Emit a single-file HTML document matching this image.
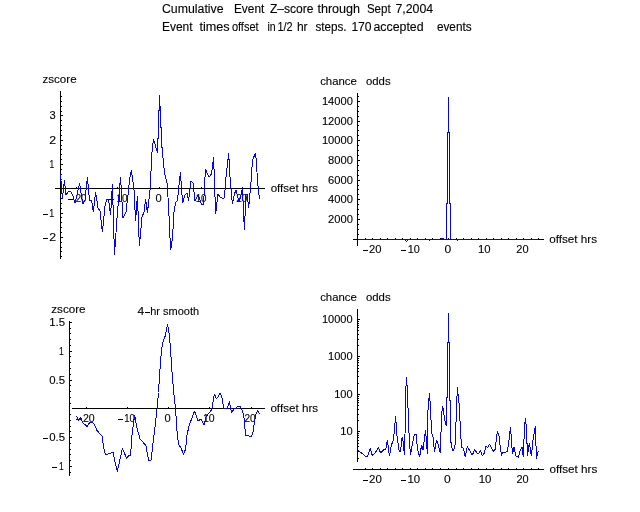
<!DOCTYPE html>
<html><head><meta charset="utf-8"><title>Cumulative Event Z-score</title>
<style>
html,body{margin:0;padding:0;background:#fff;}
body{width:640px;height:512px;position:relative;overflow:hidden;font-family:"Liberation Sans",sans-serif;}
svg{position:absolute;left:0;top:0;will-change:transform;}
text{font-family:"Liberation Sans",sans-serif;fill:#000;stroke:#000;stroke-width:0.12px;}
</style></head><body>
<svg width="640" height="512" viewBox="0 0 640 512">
<g stroke="#000" stroke-width="1" fill="none" shape-rendering="crispEdges">
<line x1="60.5" y1="91" x2="60.5" y2="259"/>
<line x1="55" y1="188.5" x2="265" y2="188.5"/>
<line x1="61" y1="256.5" x2="62" y2="256.5"/>
<line x1="61" y1="251.5" x2="62" y2="251.5"/>
<line x1="61" y1="247.5" x2="62" y2="247.5"/>
<line x1="61" y1="242.5" x2="62" y2="242.5"/>
<line x1="61" y1="237.5" x2="63" y2="237.5"/>
<line x1="61" y1="232.5" x2="62" y2="232.5"/>
<line x1="61" y1="227.5" x2="62" y2="227.5"/>
<line x1="61" y1="222.5" x2="62" y2="222.5"/>
<line x1="61" y1="217.5" x2="62" y2="217.5"/>
<line x1="61" y1="213.5" x2="63" y2="213.5"/>
<line x1="61" y1="208.5" x2="62" y2="208.5"/>
<line x1="61" y1="203.5" x2="62" y2="203.5"/>
<line x1="61" y1="198.5" x2="62" y2="198.5"/>
<line x1="61" y1="193.5" x2="62" y2="193.5"/>
<line x1="61" y1="183.5" x2="62" y2="183.5"/>
<line x1="61" y1="179.5" x2="62" y2="179.5"/>
<line x1="61" y1="174.5" x2="62" y2="174.5"/>
<line x1="61" y1="169.5" x2="62" y2="169.5"/>
<line x1="61" y1="164.5" x2="63" y2="164.5"/>
<line x1="61" y1="159.5" x2="62" y2="159.5"/>
<line x1="61" y1="154.5" x2="62" y2="154.5"/>
<line x1="61" y1="149.5" x2="62" y2="149.5"/>
<line x1="61" y1="145.5" x2="62" y2="145.5"/>
<line x1="61" y1="140.5" x2="63" y2="140.5"/>
<line x1="61" y1="135.5" x2="62" y2="135.5"/>
<line x1="61" y1="130.5" x2="62" y2="130.5"/>
<line x1="61" y1="125.5" x2="62" y2="125.5"/>
<line x1="61" y1="120.5" x2="62" y2="120.5"/>
<line x1="61" y1="115.5" x2="63" y2="115.5"/>
<line x1="61" y1="111.5" x2="62" y2="111.5"/>
<line x1="61" y1="106.5" x2="62" y2="106.5"/>
<line x1="61" y1="101.5" x2="62" y2="101.5"/>
<line x1="61" y1="96.5" x2="62" y2="96.5"/>
<line x1="76.5" y1="187" x2="76.5" y2="188"/>
<line x1="117.5" y1="187" x2="117.5" y2="188"/>
<line x1="159.5" y1="187" x2="159.5" y2="188"/>
<line x1="201.5" y1="187" x2="201.5" y2="188"/>
<line x1="242.5" y1="187" x2="242.5" y2="188"/>
<line x1="43" y1="214.5" x2="48" y2="214.5"/>
<line x1="43" y1="238.5" x2="48" y2="238.5"/>
<line x1="68" y1="199.5" x2="73" y2="199.5"/>
<line x1="109" y1="199.5" x2="114" y2="199.5"/>
<line x1="357.5" y1="93" x2="357.5" y2="246"/>
<line x1="353" y1="239.5" x2="544" y2="239.5"/>
<line x1="358" y1="234.5" x2="359" y2="234.5"/>
<line x1="358" y1="229.5" x2="359" y2="229.5"/>
<line x1="358" y1="224.5" x2="359" y2="224.5"/>
<line x1="358" y1="219.5" x2="360" y2="219.5"/>
<line x1="358" y1="214.5" x2="359" y2="214.5"/>
<line x1="358" y1="209.5" x2="359" y2="209.5"/>
<line x1="358" y1="204.5" x2="359" y2="204.5"/>
<line x1="358" y1="199.5" x2="360" y2="199.5"/>
<line x1="358" y1="194.5" x2="359" y2="194.5"/>
<line x1="358" y1="189.5" x2="359" y2="189.5"/>
<line x1="358" y1="185.5" x2="359" y2="185.5"/>
<line x1="358" y1="180.5" x2="360" y2="180.5"/>
<line x1="358" y1="175.5" x2="359" y2="175.5"/>
<line x1="358" y1="170.5" x2="359" y2="170.5"/>
<line x1="358" y1="165.5" x2="359" y2="165.5"/>
<line x1="358" y1="160.5" x2="360" y2="160.5"/>
<line x1="358" y1="155.5" x2="359" y2="155.5"/>
<line x1="358" y1="150.5" x2="359" y2="150.5"/>
<line x1="358" y1="145.5" x2="359" y2="145.5"/>
<line x1="358" y1="140.5" x2="360" y2="140.5"/>
<line x1="358" y1="135.5" x2="359" y2="135.5"/>
<line x1="358" y1="130.5" x2="359" y2="130.5"/>
<line x1="358" y1="125.5" x2="359" y2="125.5"/>
<line x1="358" y1="121.5" x2="360" y2="121.5"/>
<line x1="358" y1="116.5" x2="359" y2="116.5"/>
<line x1="358" y1="111.5" x2="359" y2="111.5"/>
<line x1="358" y1="106.5" x2="359" y2="106.5"/>
<line x1="358" y1="101.5" x2="360" y2="101.5"/>
<line x1="358" y1="96.5" x2="359" y2="96.5"/>
<line x1="365.5" y1="238" x2="365.5" y2="239"/>
<line x1="372.5" y1="238" x2="372.5" y2="239"/>
<line x1="380.5" y1="238" x2="380.5" y2="239"/>
<line x1="387.5" y1="238" x2="387.5" y2="239"/>
<line x1="395.5" y1="238" x2="395.5" y2="239"/>
<line x1="402.5" y1="238" x2="402.5" y2="239"/>
<line x1="410.5" y1="238" x2="410.5" y2="239"/>
<line x1="417.5" y1="238" x2="417.5" y2="239"/>
<line x1="425.5" y1="238" x2="425.5" y2="239"/>
<line x1="432.5" y1="238" x2="432.5" y2="239"/>
<line x1="440.5" y1="238" x2="440.5" y2="239"/>
<line x1="448.5" y1="238" x2="448.5" y2="239"/>
<line x1="456.5" y1="238" x2="456.5" y2="239"/>
<line x1="463.5" y1="238" x2="463.5" y2="239"/>
<line x1="471.5" y1="238" x2="471.5" y2="239"/>
<line x1="478.5" y1="238" x2="478.5" y2="239"/>
<line x1="486.5" y1="238" x2="486.5" y2="239"/>
<line x1="493.5" y1="238" x2="493.5" y2="239"/>
<line x1="501.5" y1="238" x2="501.5" y2="239"/>
<line x1="508.5" y1="238" x2="508.5" y2="239"/>
<line x1="516.5" y1="238" x2="516.5" y2="239"/>
<line x1="523.5" y1="238" x2="523.5" y2="239"/>
<line x1="531.5" y1="238" x2="531.5" y2="239"/>
<line x1="538.5" y1="238" x2="538.5" y2="239"/>
<line x1="363" y1="250.5" x2="368" y2="250.5"/>
<line x1="401" y1="250.5" x2="406" y2="250.5"/>
<line x1="69.5" y1="321" x2="69.5" y2="476"/>
<line x1="72" y1="408.5" x2="265" y2="408.5"/>
<line x1="70" y1="472.5" x2="71" y2="472.5"/>
<line x1="70" y1="466.5" x2="72" y2="466.5"/>
<line x1="70" y1="460.5" x2="71" y2="460.5"/>
<line x1="70" y1="454.5" x2="71" y2="454.5"/>
<line x1="70" y1="449.5" x2="71" y2="449.5"/>
<line x1="70" y1="443.5" x2="71" y2="443.5"/>
<line x1="70" y1="437.5" x2="72" y2="437.5"/>
<line x1="70" y1="431.5" x2="71" y2="431.5"/>
<line x1="70" y1="426.5" x2="71" y2="426.5"/>
<line x1="70" y1="420.5" x2="71" y2="420.5"/>
<line x1="70" y1="414.5" x2="71" y2="414.5"/>
<line x1="70" y1="403.5" x2="71" y2="403.5"/>
<line x1="70" y1="397.5" x2="71" y2="397.5"/>
<line x1="70" y1="391.5" x2="71" y2="391.5"/>
<line x1="70" y1="385.5" x2="71" y2="385.5"/>
<line x1="70" y1="380.5" x2="72" y2="380.5"/>
<line x1="70" y1="374.5" x2="71" y2="374.5"/>
<line x1="70" y1="368.5" x2="71" y2="368.5"/>
<line x1="70" y1="362.5" x2="71" y2="362.5"/>
<line x1="70" y1="356.5" x2="71" y2="356.5"/>
<line x1="70" y1="351.5" x2="72" y2="351.5"/>
<line x1="70" y1="345.5" x2="71" y2="345.5"/>
<line x1="70" y1="339.5" x2="71" y2="339.5"/>
<line x1="70" y1="333.5" x2="71" y2="333.5"/>
<line x1="70" y1="328.5" x2="71" y2="328.5"/>
<line x1="70" y1="322.5" x2="72" y2="322.5"/>
<line x1="86.5" y1="407" x2="86.5" y2="408"/>
<line x1="127.5" y1="407" x2="127.5" y2="408"/>
<line x1="168.5" y1="407" x2="168.5" y2="408"/>
<line x1="209.5" y1="407" x2="209.5" y2="408"/>
<line x1="251.5" y1="407" x2="251.5" y2="408"/>
<line x1="145" y1="312.5" x2="150" y2="312.5"/>
<line x1="43" y1="438.5" x2="48" y2="438.5"/>
<line x1="52" y1="467.5" x2="57" y2="467.5"/>
<line x1="76" y1="419.5" x2="81" y2="419.5"/>
<line x1="118" y1="419.5" x2="123" y2="419.5"/>
<line x1="357.5" y1="309" x2="357.5" y2="462"/>
<line x1="353" y1="469.5" x2="544" y2="469.5"/>
<line x1="358" y1="458.5" x2="359" y2="458.5"/>
<line x1="358" y1="451.5" x2="359" y2="451.5"/>
<line x1="358" y1="446.5" x2="359" y2="446.5"/>
<line x1="358" y1="443.5" x2="359" y2="443.5"/>
<line x1="358" y1="440.5" x2="359" y2="440.5"/>
<line x1="358" y1="437.5" x2="359" y2="437.5"/>
<line x1="358" y1="435.5" x2="359" y2="435.5"/>
<line x1="358" y1="433.5" x2="359" y2="433.5"/>
<line x1="358" y1="431.5" x2="360" y2="431.5"/>
<line x1="358" y1="420.5" x2="359" y2="420.5"/>
<line x1="358" y1="414.5" x2="359" y2="414.5"/>
<line x1="358" y1="409.5" x2="359" y2="409.5"/>
<line x1="358" y1="405.5" x2="359" y2="405.5"/>
<line x1="358" y1="402.5" x2="359" y2="402.5"/>
<line x1="358" y1="400.5" x2="359" y2="400.5"/>
<line x1="358" y1="398.5" x2="359" y2="398.5"/>
<line x1="358" y1="396.5" x2="359" y2="396.5"/>
<line x1="358" y1="394.5" x2="360" y2="394.5"/>
<line x1="358" y1="383.5" x2="359" y2="383.5"/>
<line x1="358" y1="376.5" x2="359" y2="376.5"/>
<line x1="358" y1="371.5" x2="359" y2="371.5"/>
<line x1="358" y1="368.5" x2="359" y2="368.5"/>
<line x1="358" y1="365.5" x2="359" y2="365.5"/>
<line x1="358" y1="362.5" x2="359" y2="362.5"/>
<line x1="358" y1="360.5" x2="359" y2="360.5"/>
<line x1="358" y1="358.5" x2="359" y2="358.5"/>
<line x1="358" y1="356.5" x2="360" y2="356.5"/>
<line x1="358" y1="345.5" x2="359" y2="345.5"/>
<line x1="358" y1="339.5" x2="359" y2="339.5"/>
<line x1="358" y1="334.5" x2="359" y2="334.5"/>
<line x1="358" y1="330.5" x2="359" y2="330.5"/>
<line x1="358" y1="327.5" x2="359" y2="327.5"/>
<line x1="358" y1="325.5" x2="359" y2="325.5"/>
<line x1="358" y1="323.5" x2="359" y2="323.5"/>
<line x1="358" y1="321.5" x2="359" y2="321.5"/>
<line x1="358" y1="319.5" x2="360" y2="319.5"/>
<line x1="365.5" y1="468" x2="365.5" y2="469"/>
<line x1="372.5" y1="468" x2="372.5" y2="469"/>
<line x1="380.5" y1="468" x2="380.5" y2="469"/>
<line x1="387.5" y1="468" x2="387.5" y2="469"/>
<line x1="395.5" y1="468" x2="395.5" y2="469"/>
<line x1="402.5" y1="468" x2="402.5" y2="469"/>
<line x1="410.5" y1="468" x2="410.5" y2="469"/>
<line x1="417.5" y1="468" x2="417.5" y2="469"/>
<line x1="425.5" y1="468" x2="425.5" y2="469"/>
<line x1="432.5" y1="468" x2="432.5" y2="469"/>
<line x1="440.5" y1="468" x2="440.5" y2="469"/>
<line x1="448.5" y1="468" x2="448.5" y2="469"/>
<line x1="456.5" y1="468" x2="456.5" y2="469"/>
<line x1="463.5" y1="468" x2="463.5" y2="469"/>
<line x1="471.5" y1="468" x2="471.5" y2="469"/>
<line x1="478.5" y1="468" x2="478.5" y2="469"/>
<line x1="486.5" y1="468" x2="486.5" y2="469"/>
<line x1="493.5" y1="468" x2="493.5" y2="469"/>
<line x1="501.5" y1="468" x2="501.5" y2="469"/>
<line x1="508.5" y1="468" x2="508.5" y2="469"/>
<line x1="516.5" y1="468" x2="516.5" y2="469"/>
<line x1="523.5" y1="468" x2="523.5" y2="469"/>
<line x1="531.5" y1="468" x2="531.5" y2="469"/>
<line x1="538.5" y1="468" x2="538.5" y2="469"/>
<line x1="363" y1="480.5" x2="368" y2="480.5"/>
<line x1="401" y1="480.5" x2="406" y2="480.5"/>
</g>
<g>
<text x="161.9" y="13" font-size="12" textLength="61.7" lengthAdjust="spacingAndGlyphs">Cumulative</text>
<text x="233.9" y="13" font-size="12" textLength="30.45" lengthAdjust="spacingAndGlyphs">Event</text>
<text x="269.9" y="13" font-size="12" textLength="43.7" lengthAdjust="spacingAndGlyphs">Z–score</text>
<text x="317.4" y="13" font-size="12" textLength="42.7" lengthAdjust="spacingAndGlyphs">through</text>
<text x="366.9" y="13" font-size="12" textLength="23.7" lengthAdjust="spacingAndGlyphs">Sept</text>
<text x="395.4" y="13" font-size="12" textLength="37.7" lengthAdjust="spacingAndGlyphs">7,2004</text>
<text x="161.9" y="31" font-size="12" textLength="30.7" lengthAdjust="spacingAndGlyphs">Event</text>
<text x="199.4" y="31" font-size="12" textLength="30.2" lengthAdjust="spacingAndGlyphs">times</text>
<text x="231.9" y="31" font-size="12" textLength="26.7" lengthAdjust="spacingAndGlyphs">offset</text>
<text x="267.4" y="31" font-size="12" textLength="8.2" lengthAdjust="spacingAndGlyphs">in</text>
<text x="277.4" y="31" font-size="12" textLength="15.2" lengthAdjust="spacingAndGlyphs">1/2</text>
<text x="296.9" y="31" font-size="12" textLength="10.7" lengthAdjust="spacingAndGlyphs">hr</text>
<text x="315.4" y="31" font-size="12" textLength="31.2" lengthAdjust="spacingAndGlyphs">steps.</text>
<text x="351.4" y="31" font-size="12" textLength="20.2" lengthAdjust="spacingAndGlyphs">170</text>
<text x="373.4" y="31" font-size="12" textLength="50.2" lengthAdjust="spacingAndGlyphs">accepted</text>
<text x="436.9" y="31" font-size="12" textLength="34.7" lengthAdjust="spacingAndGlyphs">events</text>
<text x="42.5" y="83" font-size="11.75" textLength="34.1" lengthAdjust="spacingAndGlyphs">zscore</text>
<text x="49.4" y="119" font-size="11.75" textLength="6.2" lengthAdjust="spacingAndGlyphs">3</text>
<text x="49.15" y="144" font-size="11.75" textLength="6.85" lengthAdjust="spacingAndGlyphs">2</text>
<text x="49.4" y="168" font-size="11.75" textLength="4.7" lengthAdjust="spacingAndGlyphs">1</text>
<text x="49.15" y="217" font-size="11.75" textLength="4.95" lengthAdjust="spacingAndGlyphs">1</text>
<text x="49.15" y="241" font-size="11.75" textLength="6.85" lengthAdjust="spacingAndGlyphs">2</text>
<text x="75.65" y="202" font-size="11.75" textLength="10.75" lengthAdjust="spacingAndGlyphs">20</text>
<text x="116.4" y="202" font-size="11.75" textLength="11.1" lengthAdjust="spacingAndGlyphs">10</text>
<text x="155.4" y="202" font-size="11.75" textLength="6.2" lengthAdjust="spacingAndGlyphs">0</text>
<text x="195.65" y="202" font-size="11.75" textLength="10.95" lengthAdjust="spacingAndGlyphs">10</text>
<text x="236.15" y="202" font-size="11.75" textLength="11.05" lengthAdjust="spacingAndGlyphs">20</text>
<text x="270.65" y="192" font-size="11.75" textLength="47.45" lengthAdjust="spacingAndGlyphs">offset hrs</text>
<text x="320.15" y="85" font-size="11.75" textLength="36.7" lengthAdjust="spacingAndGlyphs">chance</text>
<text x="366" y="85" font-size="11.75" textLength="24.6" lengthAdjust="spacingAndGlyphs">odds</text>
<text x="328" y="223" font-size="11.75" textLength="24.85" lengthAdjust="spacingAndGlyphs">2000</text>
<text x="328" y="203" font-size="11.75" textLength="24.85" lengthAdjust="spacingAndGlyphs">4000</text>
<text x="328" y="184" font-size="11.75" textLength="24.85" lengthAdjust="spacingAndGlyphs">6000</text>
<text x="328" y="164" font-size="11.75" textLength="24.85" lengthAdjust="spacingAndGlyphs">8000</text>
<text x="321.9" y="144" font-size="11.75" textLength="30.95" lengthAdjust="spacingAndGlyphs">10000</text>
<text x="321.9" y="125" font-size="11.75" textLength="30.95" lengthAdjust="spacingAndGlyphs">12000</text>
<text x="321.9" y="105" font-size="11.75" textLength="30.95" lengthAdjust="spacingAndGlyphs">14000</text>
<text x="369.1" y="253" font-size="11.75" textLength="12.5" lengthAdjust="spacingAndGlyphs">20</text>
<text x="407.7" y="253" font-size="11.75" textLength="12.1" lengthAdjust="spacingAndGlyphs">10</text>
<text x="444.4" y="253" font-size="11.75" textLength="6.7" lengthAdjust="spacingAndGlyphs">0</text>
<text x="478" y="253" font-size="11.75" textLength="12.6" lengthAdjust="spacingAndGlyphs">10</text>
<text x="516.3" y="253" font-size="11.75" textLength="12.3" lengthAdjust="spacingAndGlyphs">20</text>
<text x="549.2" y="243" font-size="11.75" textLength="47.9" lengthAdjust="spacingAndGlyphs">offset hrs</text>
<text x="51.3" y="313" font-size="11.75" textLength="34.3" lengthAdjust="spacingAndGlyphs">zscore</text>
<text x="137.5" y="315" font-size="11.75" textLength="6.7" lengthAdjust="spacingAndGlyphs">4</text>
<text x="150.2" y="315" font-size="11.75" textLength="48.9" lengthAdjust="spacingAndGlyphs">hr smooth</text>
<text x="49.15" y="326" font-size="11.75" textLength="15.85" lengthAdjust="spacingAndGlyphs">1.5</text>
<text x="58.9" y="355" font-size="11.75" textLength="4.7" lengthAdjust="spacingAndGlyphs">1</text>
<text x="49.15" y="384" font-size="11.75" textLength="15.85" lengthAdjust="spacingAndGlyphs">0.5</text>
<text x="49.15" y="441" font-size="11.75" textLength="15.85" lengthAdjust="spacingAndGlyphs">0.5</text>
<text x="58.9" y="470" font-size="11.75" textLength="4.7" lengthAdjust="spacingAndGlyphs">1</text>
<text x="82.9" y="422" font-size="11.75" textLength="11.8" lengthAdjust="spacingAndGlyphs">20</text>
<text x="124.15" y="422" font-size="11.75" textLength="10.55" lengthAdjust="spacingAndGlyphs">10</text>
<text x="164.4" y="422" font-size="11.75" textLength="6.2" lengthAdjust="spacingAndGlyphs">0</text>
<text x="202.9" y="422" font-size="11.75" textLength="11.7" lengthAdjust="spacingAndGlyphs">10</text>
<text x="244.4" y="422" font-size="11.75" textLength="11.2" lengthAdjust="spacingAndGlyphs">20</text>
<text x="270.4" y="412" font-size="11.75" textLength="47.7" lengthAdjust="spacingAndGlyphs">offset hrs</text>
<text x="320.15" y="301" font-size="11.75" textLength="36.7" lengthAdjust="spacingAndGlyphs">chance</text>
<text x="366" y="301" font-size="11.75" textLength="24.6" lengthAdjust="spacingAndGlyphs">odds</text>
<text x="322" y="323" font-size="11.75" textLength="30.6" lengthAdjust="spacingAndGlyphs">10000</text>
<text x="328" y="360" font-size="11.75" textLength="24.6" lengthAdjust="spacingAndGlyphs">1000</text>
<text x="334.2" y="398" font-size="11.75" textLength="18.4" lengthAdjust="spacingAndGlyphs">100</text>
<text x="340.2" y="435" font-size="11.75" textLength="12.4" lengthAdjust="spacingAndGlyphs">10</text>
<text x="369.1" y="483" font-size="11.75" textLength="12.75" lengthAdjust="spacingAndGlyphs">20</text>
<text x="407.4" y="483" font-size="11.75" textLength="12.7" lengthAdjust="spacingAndGlyphs">10</text>
<text x="443.9" y="483" font-size="11.75" textLength="6.7" lengthAdjust="spacingAndGlyphs">0</text>
<text x="478.65" y="483" font-size="11.75" textLength="12.7" lengthAdjust="spacingAndGlyphs">10</text>
<text x="516.4" y="483" font-size="11.75" textLength="12.2" lengthAdjust="spacingAndGlyphs">20</text>
<text x="549.4" y="473" font-size="11.75" textLength="47.95" lengthAdjust="spacingAndGlyphs">offset hrs</text>
</g>
<g stroke="#0000ff" stroke-width="1" fill="none" shape-rendering="crispEdges" stroke-linejoin="miter" stroke-miterlimit="1">
<polyline points="60.5,174 62.4,199 64.4,180 66,195 69,191 71,192 73,196 75,203 77,195 79.6,183 81.5,196 83,204 85,200 87.4,177 89.5,200 91.5,200 93.4,212 95.6,192 98,208 100,211 102.4,232.2 105,206 106.5,200 108.5,199 110.6,215 112.4,184 114.5,255.2 117,218 119,195 120.5,177 123,218 126,212 128,195 129.5,180 131.4,170 134,190 135.6,221 137.4,196 139.4,246.2 142,217 144,212 145.6,199 147.4,213 150,190 152,152 153.4,139 155.5,146 157.5,153 157.5,139 158.5,138 158.5,111 159.5,110 159.5,95 159.5,106 160.5,107 160.5,127 161.5,128 161.5,147 162.5,148 163.2,162 165,175 167.3,184 169,216 170.6,250.2 172.5,238 174,212 175.5,203 177.5,200 180.4,172 182.6,203 185,195 187,193 188.5,201 191,181 193,183 195,201 198,195 200,200 201.6,205 203.6,204 205.4,169 207.5,174 209,177 211.5,174 213.6,157 215.6,214 218,194 220,197 222,198 224.4,198 225.2,188 225.8,178.5 227,168 228.6,153 229.3,164 230.3,181.5 231.1,190 232.4,204 234.4,194 236,190 239,202 241,195 242.4,188 244.4,230 246,194 247.4,195 248.6,208 251,182 252.5,160 255.5,153 256.5,162.3 257.4,180 258.4,190 259.5,199.4"/>
<polyline points="76.6,416 78.6,421 80.4,417 83,423 87,426.4 89.4,423 92.6,422 95,426 97,430.6 102,436 103.6,447 105.6,455 110,453.4 113,452 114.4,459 117.4,471.4 120,459 122.4,448.6 124,452 126.6,458.4 129,455 130.6,455.4 132,435 134.6,415 137,428 140,439 143,442 146,446 148.6,460.6 151,460.6 153,443 154.5,431 155.5,423 156.5,413.5 157.5,404 158.5,392.5 159.5,376.5 160.5,361.5 161.5,351 162.5,344 163.5,340 164.5,338 165.5,335 166.5,330 167.5,324 168.5,329 169.5,336 170.5,349 171.5,364.5 172.5,378.5 173.5,390 174.5,399 175.5,409.5 176.5,423 177.3,436 179,445 181,448 183.6,454.4 185.6,449 187,435 189,426 191.6,419 194.6,411 198,421 201,419 204,425 206,417 209,413 211.6,410 214.4,394 216.6,399 220.4,393 222,398 224,409 227,408.6 229.4,401.6 231.4,412.6 234,409 236,408.6 238,406 240,406.6 242.6,411 244,418 245.6,435.4 249,436 251.4,436.4 253,432 254.6,421 256,414 257.6,410.4 259.6,413.6"/>
<polyline points="357.6,449.6 360,452 363,454 365.6,456.4 367.6,456 370.4,448.4 372.4,456 375,453 378.4,447.6 380.6,453 384.4,449 385.6,450 387.4,440.4 389.4,456.4 391.4,445 393,441 394,434 395.6,416.4 397,436 399,450 400.4,452 402,438 402.6,437 404.4,455 405,434 405.6,396 406.4,377.4 407.4,389 408.6,426 410.4,455 412.4,444 414.4,434.4 416,434.4 417.6,449 419.6,457 421.6,445 423,450 425.6,430 427.4,454 428,410 429.4,393.4 430.4,406 431.6,433 433,437 434.5,452.4 436.5,439.7 438.4,445 440.4,453.3 441.4,418 442.5,406.2 443.6,410.5 444.5,419.5 446.3,426 446.5,398 447.5,397 447.5,343 448.5,342 448.5,313 448.5,342 449.5,343 449.5,400 450.5,401 450.6,439 451.6,447.4 453.2,451 454.9,447.4 455.7,430.8 456.6,405 457.4,387.3 458.5,399 459.2,404 459.9,419 461,439 461.9,447.4 463.5,448.3 465.2,457.4 467.3,446.6 469.8,450.7 472.3,455 474.8,449.4 476.6,452.4 478.4,454 480.4,450.4 482.4,455.6 484.4,453 486,446 487.4,447.6 489.6,444.4 491.6,448 493.6,451.6 495.4,449 496.4,438 497.4,431 499,436 500.4,449 501.6,455.6 502.6,452 505,452.4 507,451.6 508.6,444 509.6,434 510.6,427.4 511.6,444 512.6,453.6 514,447 516,456 518.4,457.4 520,451 522,447 523.4,457.4 524.4,428 525.4,418 526.6,430 527.4,456 529.4,443 531.4,456 533,440 534,434 535.4,426 536.4,458.6 537.6,453 538.6,451"/>
<line x1="358" y1="239.5" x2="539" y2="239.5"/>
<line x1="448.5" y1="97" x2="448.5" y2="133"/>
<line x1="447.5" y1="132" x2="447.5" y2="204"/>
<line x1="449.5" y1="132" x2="449.5" y2="204"/>
<line x1="446.5" y1="203" x2="446.5" y2="240"/>
<line x1="450.5" y1="203" x2="450.5" y2="240"/>
<line x1="446" y1="203.5" x2="448" y2="203.5"/>
<line x1="449" y1="203.5" x2="451" y2="203.5"/>
<line x1="406.5" y1="241" x2="406.5" y2="242"/>
<line x1="405.5" y1="240" x2="405.5" y2="241"/>
<line x1="407.5" y1="240" x2="407.5" y2="241"/>
<line x1="429.5" y1="240" x2="429.5" y2="241"/>
<line x1="457.5" y1="240" x2="457.5" y2="241"/>
<line x1="441" y1="238.5" x2="444" y2="238.5"/>
</g>
</svg>
</body></html>
